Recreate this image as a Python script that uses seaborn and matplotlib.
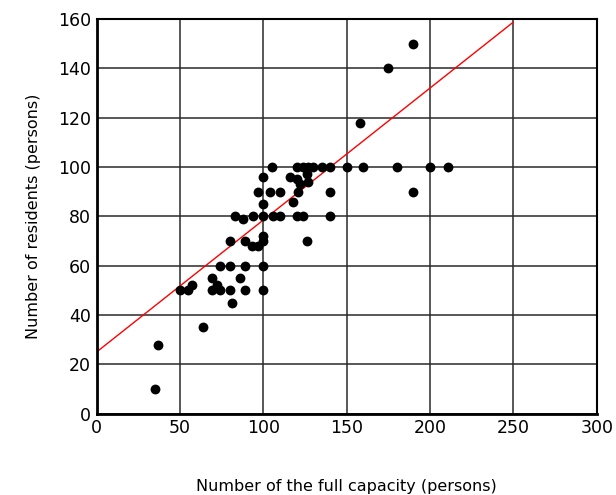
import numpy as np
import pandas as pd
import matplotlib
matplotlib.use("Agg")
import matplotlib.pyplot as plt
import seaborn as sns

# Full capacity vs residents
capacity = [35, 37, 64, 50, 55, 57, 69, 69, 72, 74, 80, 81, 86, 89, 100,
            74, 80, 89, 100,
            80, 89, 93, 97, 100, 100, 126,
            83, 88, 94, 100, 106, 110, 120, 124, 140,
            100, 118,
            97, 104, 110, 121, 140, 190,
            100, 116, 120, 126, 122, 127,
            105, 120, 124, 127, 130, 135, 140, 150, 160, 180, 200, 211,
            158, 175, 190]
residents = [10, 28, 35, 50, 50, 52, 55, 50, 52, 50, 50, 45, 55, 50, 50,
             60, 60, 60, 60,
             70, 70, 68, 68, 72, 70, 70,
             80, 79, 80, 80, 80, 80, 80, 80, 80,
             85, 86,
             90, 90, 90, 90, 90, 90,
             96, 96, 95, 97, 93, 94,
             100, 100, 100, 100, 100, 100, 100, 100, 100, 100, 100, 100,
             118, 140, 150]

# fitted line
fit_intercept = 25.0
fit_slope = 0.535
fit_range = [0, 250]

x_ticks = [0, 50, 100, 150, 200, 250, 300]
y_ticks = [0, 20, 40, 60, 80, 100, 120, 140, 160]

df = pd.DataFrame({"capacity": capacity, "residents": residents})

sns.set_style("white")
plt.rcParams["font.family"] = ["DejaVu Sans"]
plt.rcParams["text.color"] = "black"
plt.rcParams["axes.labelcolor"] = "black"
plt.rcParams["xtick.color"] = "black"
plt.rcParams["ytick.color"] = "black"

fig = plt.figure(figsize=(6.16, 4.95), dpi=100)
ax = fig.add_axes([0.1567, 0.1642, 0.812, 0.7974])

ax.grid(True, color="#2a2a2a", linewidth=1.1)
ax.set_axisbelow(True)

fx = np.array(fit_range, dtype=float)
ax.plot(fx, fit_intercept + fit_slope * fx, color="red", linewidth=1.0, zorder=2)

sns.scatterplot(data=df, x="capacity", y="residents", ax=ax, color="black",
                s=50, edgecolor="black", linewidth=0, zorder=3)

ax.set_xlim(0, 300)
ax.set_ylim(0, 160)
ax.set_xticks(x_ticks)
ax.set_yticks(y_ticks)
ax.tick_params(axis="both", direction="out", length=3, width=2.5,
               labelsize=12.5, colors="black", pad=1)

for side in ["left", "bottom"]:
    ax.spines[side].set_linewidth(2)
for side in ["top", "right"]:
    ax.spines[side].set_linewidth(1.5)
for sp in ax.spines.values():
    sp.set_color("black")

ax.set_xlabel("Number of the full capacity (persons)", fontsize=11.5,
              labelpad=30, color="black")
ax.set_ylabel("Number of residents (persons)", fontsize=11.5,
              labelpad=12, color="black")

fig.savefig("out.png", dpi=100)
